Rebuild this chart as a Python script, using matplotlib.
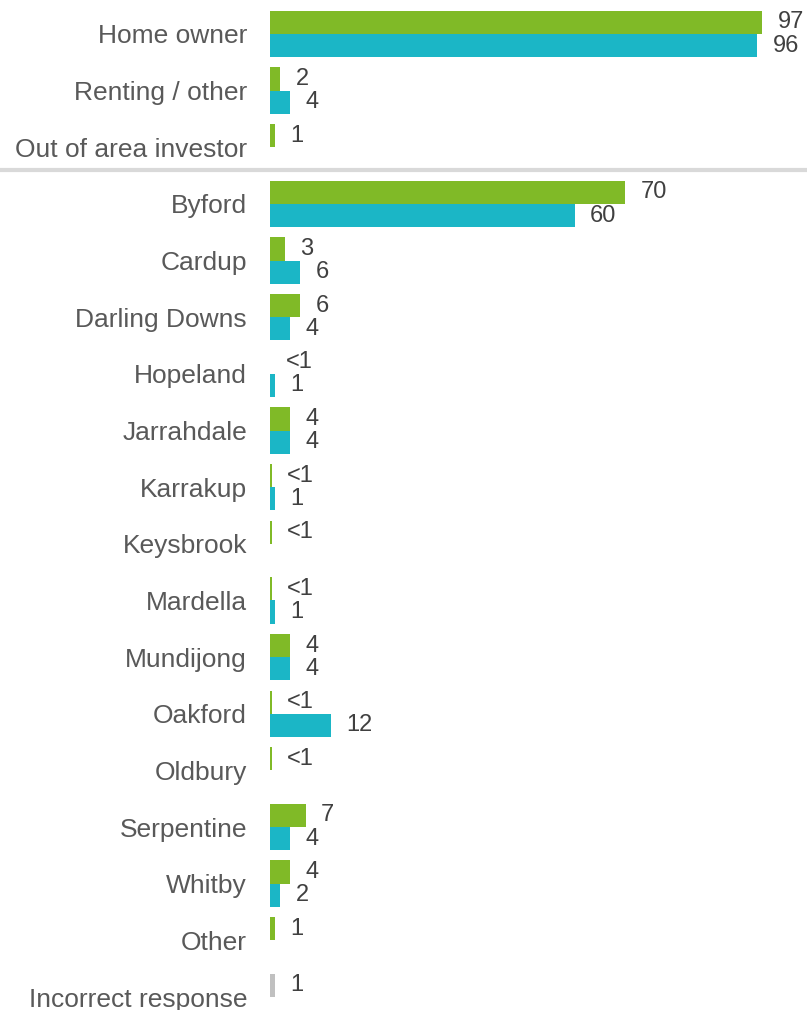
import numpy as np
import matplotlib.pyplot as plt
from matplotlib.lines import Line2D

plt.rcParams['font.family'] = ['Liberation Sans', 'DejaVu Sans']

# 数据
categories = ["Home owner", "Renting / other", "Out of area investor",
              "Byford", "Cardup", "Darling Downs", "Hopeland", "Jarrahdale",
              "Karrakup", "Keysbrook", "Mardella", "Mundijong", "Oakford",
              "Oldbury", "Serpentine", "Whitby", "Other", "Incorrect response"]
green_vals = [97, 2, 1, 70, 3, 6, 0.05, 4, 0.3, 0.3, 0.3, 4, 0.3, 0.3, 7, 4, 1, 1]
green_labels = ["97", "2", "1", "70", "3", "6", "<1", "4", "<1", "<1", "<1",
                "4", "<1", "<1", "7", "4", "1", "1"]
teal_vals = [96, 4, None, 60, 6, 4, 1, 4, 1, None, 1, 4, 12, None, 4, 2, None, None]
teal_labels = ["96", "4", "", "60", "6", "4", "1", "4", "1", "", "1", "4", "12",
               "", "4", "2", "", ""]

GREEN = "#80ba27"
TEAL = "#1bb6c6"
GREY = "#c0c0c0"
TXT = "#595959"

fig = plt.figure(figsize=(8.07, 10.10), dpi=100)
ax = fig.add_axes([270 / 807, 0, 1 - 270 / 807, 1])

rows = np.arange(len(categories))
h = 0.41

# 第一组柱（绿色，最后一项为灰色）
g_colors = [GREEN] * (len(categories) - 1) + [GREY]
ax.barh(rows - h / 2, green_vals, height=h, color=g_colors, linewidth=0)
for y, v, s in zip(rows, green_vals, green_labels):
    ax.annotate(s, (v, y - h / 2), xytext=(11, 0), textcoords="offset points",
                ha="left", va="center", fontsize=17, color="#404040")

# 第二组柱（青色）
for y, v, s in zip(rows, teal_vals, teal_labels):
    if v is None:
        continue
    ax.barh(y + h / 2, v, height=h, color=TEAL, linewidth=0)
    ax.annotate(s, (v, y + h / 2), xytext=(11, 0), textcoords="offset points",
                ha="left", va="center", fontsize=17, color="#404040")

ax.set_xlim(0, 537 / 5.075)
ax.set_ylim(17 + (1010 - 997) / 56.65, -34 / 56.65)
ax.set_yticks(rows)
ax.set_yticklabels(categories, fontsize=19, color=TXT)
ax.tick_params(axis="y", length=0, pad=16.5)
ax.set_xticks([])
for sp in ax.spines.values():
    sp.set_visible(False)

# 分隔线
fig.add_artist(Line2D([0, 1], [1 - 170 / 1010, 1 - 170 / 1010],
                      transform=fig.transFigure, color="#d9d9d9", linewidth=3))

plt.savefig("out.png", dpi=100)
